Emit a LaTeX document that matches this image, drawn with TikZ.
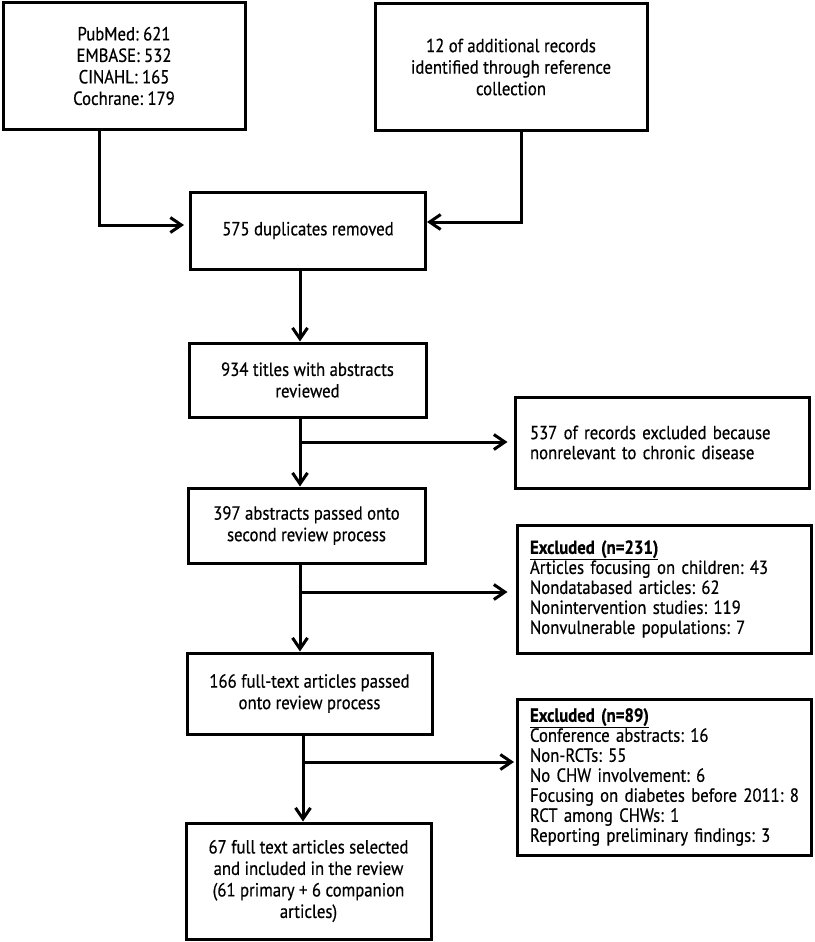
\documentclass[tikz,border=0pt]{standalone}
\usepackage{fontspec}
\setmainfont{PT Sans}[FakeStretch=0.88,FakeBold=0.5]
\frenchspacing
\usetikzlibrary{arrows.meta}
\begin{document}
\begin{tikzpicture}[x=1pt,y=-1pt,
  box/.style={draw, line width=3pt, rectangle, inner sep=0pt, align=center, font=\fontsize{19}{21.5}\selectfont},
  exbox/.style={draw, line width=3pt, rectangle, inner xsep=13pt, inner ysep=0pt, align=left, text width=268pt, minimum width=294pt, font=\fontsize{19}{20}\selectfont},
  arr/.style={line width=3pt, -{Straight Barb[length=11pt,width=15pt]}},
  ]
\useasboundingbox (0,0) rectangle (814,942);
\node[box, minimum width=242pt, minimum height=126pt] (b1) at (124,66) {PubMed: 621\\EMBASE: 532\\CINAHL: 165\\Cochrane: 179};
\node[box, minimum width=272pt, minimum height=126pt] (b2) at (511,67) {12 of additional records\\identified through reference\\collection};
\node[box, minimum width=235pt, minimum height=77pt] (b3) at (308,230.5) {575 duplicates removed};
\node[box, minimum width=237pt, minimum height=74pt] (b4) at (307.5,380) {934 titles with abstracts\\reviewed};
\node[exbox, inner xsep=15pt, text width=264pt, minimum height=91pt] (b5) at (662,442.5) {537 of records excluded because\\nonrelevant to chronic disease};
\node[box, minimum width=237pt, minimum height=75pt] (b6) at (306.5,525.5) {397 abstracts passed onto\\second review process};
\node[exbox, minimum height=128pt] (b7) at (664,589) {\underline{\textbf{Excluded (n=231)}}\\Articles focusing on children: 43\\Nondatabased articles: 62\\Nonintervention studies: 119\\Nonvulnerable populations: 7};
\node[box, minimum width=245pt, minimum height=81pt] (b8) at (309.5,693.5) {166 full-text articles passed\\onto review process};
\node[exbox, minimum height=156pt] (b9) at (664,777) {\underline{\textbf{Excluded (n=89)}}\\Conference abstracts: 16\\Non-RCTs: 55\\No CHW involvement: 6\\\mbox{Focusing on diabetes before 2011: 8}\\RCT among CHWs: 1\\Reporting preliminary findings: 3};
\node[box, minimum width=245pt, minimum height=116pt] (b10) at (308.5,881) {67 full text articles selected\\and included in the review\\(61 primary + 6 companion\\articles)};
% connectors
\coordinate (c1) at (99,225);
\coordinate (c2) at (521,222);
\draw[arr, shorten >=5pt] (c1 |- b1.south) -- (c1) -- (c1 -| b3.west);
\draw[arr] (c2 |- b2.south) -- (c2) -- (c2 -| b3.east);
\coordinate (t1) at (300,0);
\coordinate (t3) at (303,0);
\draw[arr] (t1 |- b3.south) -- (t1 |- b4.north);
\draw[arr] (t1 |- b4.south) -- (t1 |- b6.north);
\draw[arr] (t1 |- b6.south) -- (t1 |- b8.north);
\draw[arr] (t3 |- b8.south) -- (t3 |- b10.north);
\coordinate (j1) at (300,442);
\coordinate (j2) at (300,592);
\coordinate (j3) at (303,762);
\draw[arr, shorten >=6pt] (j1) -- (j1 -| b5.west);
\draw[arr, shorten >=8pt] (j2) -- (j2 -| b7.west);
\draw[arr, shorten >=1.5pt] (j3) -- (j3 -| b9.west);
\end{tikzpicture}
\end{document}
